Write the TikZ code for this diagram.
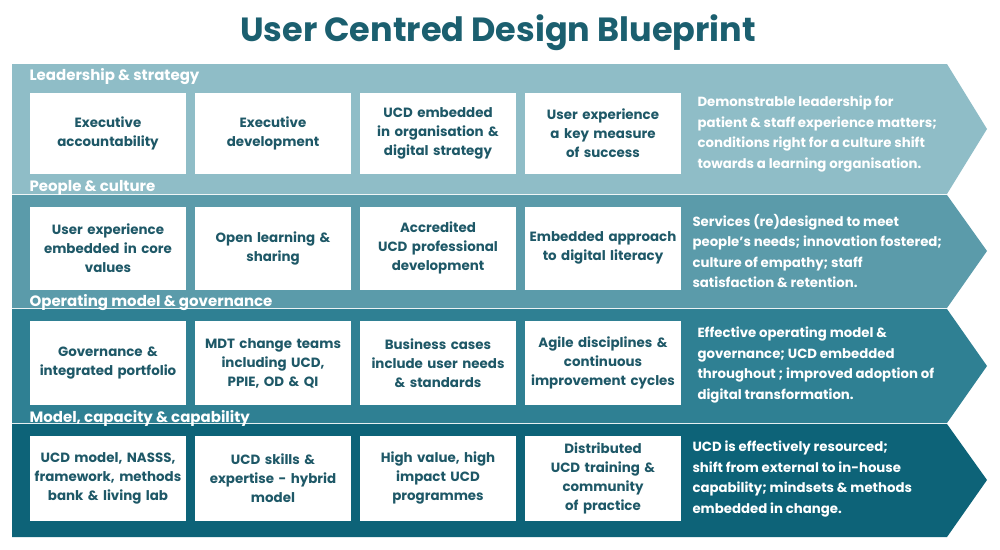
\documentclass[tikz,border=0pt]{standalone}
\usepackage{fontspec}
\setmainfont{Poppins}
\definecolor{tcol}{HTML}{1B5F6F}
\definecolor{bA}{HTML}{8FBDC7}
\definecolor{bB}{HTML}{5B9BAA}
\definecolor{bC}{HTML}{2F8093}
\definecolor{bD}{HTML}{0D6378}
\definecolor{boxtxt}{HTML}{1E5867}
\begin{document}
\begin{tikzpicture}[x=1pt,y=-1pt,
  cbox/.style={fill=white,draw=none,minimum width=156pt,text width=152pt,align=center,inner sep=0pt,font=\fontsize{13.4}{19}\selectfont\bfseries,text=boxtxt},
  head/.style={anchor=west,text=white,font=\fontsize{15}{17}\selectfont\bfseries},
  outc/.style={anchor=west,text=white,align=left,font=\fontsize{13.3}{20.5}\selectfont\bfseries}]
\useasboundingbox (0,0) rectangle (1000,549);
\fill[white] (0,0) rectangle (1000,549);
\node[text=tcol,font=\fontsize{33.5}{38}\selectfont\bfseries] (title) at (498,33) {User Centred Design Blueprint};
% bands
\fill[bA] (12,64) -- (947,64) -- (987,129) -- (947,194) -- (12,194) -- cycle;
\fill[bB] (12,195) -- (947,195) -- (987,251) -- (947,308) -- (12,308) -- cycle;
\fill[bC] (12,309) -- (947,309) -- (987,366) -- (947,423) -- (12,423) -- cycle;
\fill[bD] (12,424) -- (947,424) -- (987,480) -- (947,537) -- (12,537) -- cycle;
% headers
\node[head] (h1) at (26,77) {Leadership \& strategy};
\node[head] (h2) at (26,188) {People \& culture};
\node[head] (h3) at (26,303) {Operating model \& governance};
\node[head] (h4) at (26,418) {Model, capacity \& capability};
% row 1
\node[cbox,minimum height=81pt] (a1) at (108,133) {Executive\\accountability};
\node[cbox,minimum height=81pt] (a2) at (273,133) {Executive\\development};
\node[cbox,minimum height=81pt] (a3) at (438,133) {UCD embedded\\in organisation \&\\digital strategy};
\node[cbox,minimum height=81pt] (a4) at (603,133) {User experience\\a key measure\\of success};
\node[outc] (o1) at (694,134) {Demonstrable leadership for\\patient \& staff experience matters;\\conditions right for a culture shift\\towards a learning organisation.};
% row 2
\node[cbox,minimum height=83pt] (b1) at (108,248) {User experience\\embedded in core\\values};
\node[cbox,minimum height=83pt] (b2) at (273,248) {Open learning \&\\sharing};
\node[cbox,minimum height=83pt] (b3) at (438,248) {Accredited\\UCD professional\\development};
\node[cbox,minimum height=83pt] (b4) at (603,248) {Embedded approach\\to digital literacy};
\node[outc] (o2) at (689,251) {Services (re)designed to meet\\people's needs; innovation fostered;\\culture of empathy; staff\\satisfaction \& retention.};
% row 3
\node[cbox,minimum height=84pt] (c1) at (108,363) {Governance \&\\integrated portfolio};
\node[cbox,minimum height=84pt] (c2) at (273,363) {MDT change teams\\including UCD,\\PPIE, OD \& QI};
\node[cbox,minimum height=84pt] (c3) at (438,363) {Business cases\\include user needs\\\& standards};
\node[cbox,minimum height=84pt] (c4) at (603,363) {Agile disciplines \&\\continuous\\improvement cycles};
\node[outc] (o3) at (694,365) {Effective operating model \&\\governance; UCD embedded\\throughout ; improved adoption of\\digital transformation.};
% row 4
\node[cbox,minimum height=85pt] (d1) at (108,478) {UCD model, NASSS,\\framework, methods\\bank \& living lab};
\node[cbox,minimum height=85pt] (d2) at (273,478) {UCD skills \&\\expertise - hybrid\\model};
\node[cbox,minimum height=85pt] (d3) at (438,478) {High value, high\\impact UCD\\programmes};
\node[cbox,minimum height=85pt] (d4) at (603,478) {Distributed\\UCD training \&\\community\\of practice};
\node[outc] (o4) at (689,479) {UCD is effectively resourced;\\shift from external to in-house\\capability; mindsets \& methods\\embedded in change.};
\end{tikzpicture}
\end{document}
